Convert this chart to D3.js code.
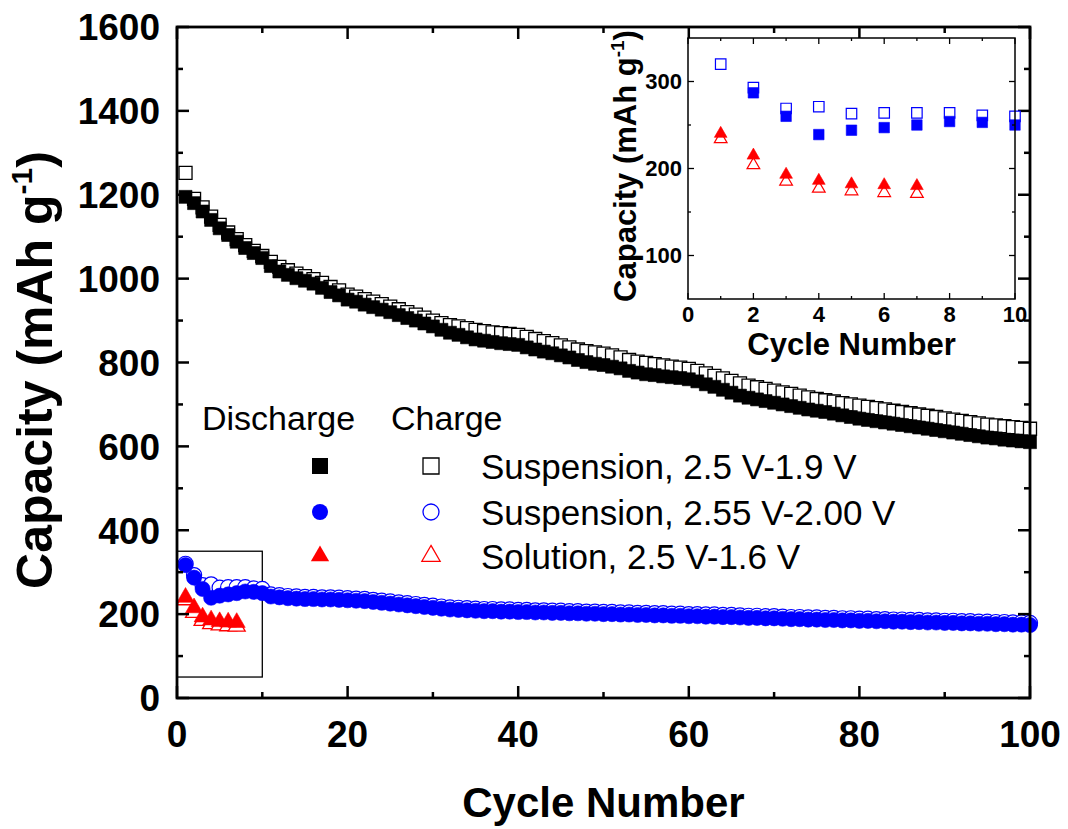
<!DOCTYPE html>
<html><head><meta charset="utf-8">
<script src="https://cdn.jsdelivr.net/npm/d3@7"></script>
<style>body{margin:0;background:#fff}text{font-family:"Liberation Sans",Arial,sans-serif}</style>
</head><body>
<svg id="c" width="1068" height="829"></svg>
<script>
// ---- data (capacity, mAh g^-1, index = cycle number - 1) ----
const suspA_discharge = [1195,1180,1160,1140,1120,1104,1088,1073,1061,1049,1030,1017,1009,1001,995,988,978,968,960,950,
945,938,932,926,920,913,906,900,893,886,878,871,866,860,855,852,849,846,844,842,
836,831,826,822,817,812,806,801,797,794,790,786,780,776,772,770,767,765,763,760,
755,748,742,735,728,721,716,712,708,704,700,696,692,688,685,682,678,674,670,666,
663,660,657,654,651,648,645,642,639,636,633,630,627,624,621,619,616,614,612,610];
const suspA_charge = [1252,1190,1170,1148,1128,1110,1094,1080,1066,1054,1040,1028,1020,1012,1006,999,990,980,972,962,
957,951,945,939,933,927,920,914,907,900,894,889,886,882,878,875,872,870,868,866,
861,856,851,846,841,836,831,827,824,821,817,812,806,802,799,796,793,790,788,785,
780,774,768,762,756,750,745,741,737,733,729,725,721,717,713,710,707,703,700,697,
694,691,688,685,682,679,676,673,670,667,664,661,658,655,652,650,648,646,644,642];
const suspB_discharge = [317,287,260,239,244,247,250,254,253,250,242,240,238,237,236,236,235,235,234,233,
232,231,229,227,225,223,221,219,217,215,213,211,210,209,208,207,207,206,206,205,
205,204,204,203,203,202,202,201,201,200,200,199,199,198,198,197,197,196,196,195,
195,194,194,193,193,192,191,191,190,190,189,188,188,187,187,186,186,185,185,184,
184,183,183,182,182,181,181,180,180,179,179,178,178,177,177,176,176,175,175,174];
const suspB_charge = [320,293,269,271,263,264,264,264,261,260,247,245,243,242,241,241,240,240,239,238,
237,236,234,232,230,228,226,224,222,220,218,216,215,214,213,212,212,211,211,210,
210,209,209,208,208,207,207,206,206,205,205,204,204,203,203,202,202,201,201,200,
200,199,199,198,198,197,196,196,195,195,194,193,193,192,192,191,191,190,190,189,
189,188,188,187,187,186,186,185,185,184,184,183,183,182,182,181,181,180,180,179];
const solution_discharge = [240,215,193,186,182,181,180];
const solution_charge = [234,204,185,177,174,172,171];

const mainXTicks = [0,20,40,60,80,100];
const mainYTicks = [0,200,400,600,800,1000,1200,1400,1600];
const insetXTicks = [0,2,4,6,8,10];
const insetYTicks = [100,200,300];
const legendLabels = ["Suspension, 2.5 V-1.9 V","Suspension, 2.55 V-2.00 V","Solution, 2.5 V-1.6 V"];
const legendHeader = ["Discharge","Charge"];

// ---- drawing ----
const svg = d3.select("#c");
const BOLD = "bold";

function frame(g, x, y, lw){
  const [x0,x1] = x.range(), [y0,y1] = y.range();
  g.append("rect").attr("x",x0).attr("y",y1).attr("width",x1-x0).attr("height",y0-y1)
   .attr("fill","none").attr("stroke","#000").attr("stroke-width",lw);
}
function ticks(g, x, y, xMaj, xMin, yMaj, yMin, L, l, lw){
  const [x0,x1] = x.range(), [y0,y1] = y.range();
  const add = (vals, len, fx) => vals.forEach(v => fx(v,len));
  const bt = (v,len)=>{const p=x(v); g.append("line").attr("x1",p).attr("x2",p).attr("y1",y0).attr("y2",y0-len).attr("stroke","#000").attr("stroke-width",lw);
                       g.append("line").attr("x1",p).attr("x2",p).attr("y1",y1).attr("y2",y1+len).attr("stroke","#000").attr("stroke-width",lw);};
  const lt = (v,len)=>{const p=y(v); g.append("line").attr("y1",p).attr("y2",p).attr("x1",x0).attr("x2",x0+len).attr("stroke","#000").attr("stroke-width",lw);
                       g.append("line").attr("y1",p).attr("y2",p).attr("x1",x1).attr("x2",x1-len).attr("stroke","#000").attr("stroke-width",lw);};
  add(xMaj,L,bt); add(xMin,l,bt); add(yMaj,L,lt); add(yMin,l,lt);
}
function marks(g, data, sym, size, color, filled, sw, x, y){
  g.selectAll(null).data(data).enter().append("path")
   .attr("d", d3.symbol().type(sym).size(size)())
   .attr("transform",(d,i)=>`translate(${x(i+1)},${y(d)})`)
   .attr("fill", filled ? color : "#fff")
   .attr("stroke", color).attr("stroke-width", filled ? 0.6 : sw);
}

// main plot
const x = d3.scaleLinear().domain([0,100]).range([177,1030]);
const y = d3.scaleLinear().domain([0,1600]).range([698,27]);
const gm = svg.append("g");

// zoom-region rectangle
gm.append("rect").attr("x",x(0)).attr("y",y(350)).attr("width",x(10)-x(0)).attr("height",y(50)-y(350))
  .attr("fill","none").attr("stroke","#000").attr("stroke-width",1.3);

marks(gm, suspA_charge, d3.symbolSquare, 169, "#000", false, 1.3, x, y);
marks(gm, suspA_discharge, d3.symbolSquare, 169, "#000", true, 1.3, x, y);
marks(gm, suspB_charge, d3.symbolCircle, 180, "#0000ff", false, 1.2, x, y);
marks(gm, suspB_discharge, d3.symbolCircle, 180, "#0000ff", true, 1.2, x, y);
marks(gm, solution_charge, d3.symbolTriangle, 125, "#ff0000", false, 1.3, x, y);
marks(gm, solution_discharge, d3.symbolTriangle, 125, "#ff0000", true, 1.3, x, y);

ticks(gm, x, y, mainXTicks, [10,30,50,70,90], mainYTicks, [100,300,500,700,900,1100,1300,1500], 12, 6, 2.5);
frame(gm, x, y, 2.8);

gm.selectAll(null).data(mainXTicks).enter().append("text")
  .attr("x",d=>x(d)).attr("y",747).attr("text-anchor","middle")
  .attr("font-size",37).attr("font-weight",BOLD).text(d=>d);
gm.selectAll(null).data(mainYTicks).enter().append("text")
  .attr("x",160).attr("y",d=>y(d)).attr("dy","0.36em").attr("text-anchor","end")
  .attr("font-size",37).attr("font-weight",BOLD).text(d=>d);
gm.append("text").attr("x",(x(0)+x(100))/2).attr("y",817).attr("text-anchor","middle")
  .attr("font-size",42).attr("font-weight",BOLD).text("Cycle Number");
const yt = gm.append("text").attr("transform","translate(52,370) rotate(-90)").attr("text-anchor","middle")
  .attr("font-size",50).attr("font-weight",BOLD);
yt.append("tspan").text("Capacity (mAh g");
yt.append("tspan").attr("font-size",30).attr("dy",-20).text("-1");
yt.append("tspan").attr("dy",20).text(")");

// legend
const lg = svg.append("g");
lg.append("text").attr("x",202).attr("y",430).attr("font-size",34).text(legendHeader[0]);
lg.append("text").attr("x",391).attr("y",430).attr("font-size",34).text(legendHeader[1]);
const legendRows = [
  {sym:d3.symbolSquare, size:256, color:"#000", y:466},
  {sym:d3.symbolCircle, size:201, color:"#0000ff", y:512},
  {sym:d3.symbolTriangle, size:145, color:"#ff0000", y:556}
];
legendRows.forEach((r,i)=>{
  lg.append("path").attr("d",d3.symbol().type(r.sym).size(r.size)()).attr("transform",`translate(320,${r.y})`).attr("fill",r.color);
  lg.append("path").attr("d",d3.symbol().type(r.sym).size(r.size)()).attr("transform",`translate(431,${r.y})`)
    .attr("fill","#fff").attr("stroke",r.color).attr("stroke-width",1.3);
  lg.append("text").attr("x",481).attr("y",r.y).attr("dy","0.36em").attr("font-size",35).text(legendLabels[i]);
});

// inset
const xi = d3.scaleLinear().domain([0,10]).range([688,1015]);
const yi = d3.scaleLinear().domain([50,350]).range([299,38]);
const gi = svg.append("g");
gi.append("rect").attr("x",688).attr("y",38).attr("width",327).attr("height",261).attr("fill","#fff");
marks(gi, suspB_charge.slice(0,10), d3.symbolSquare, 110, "#0000ff", false, 1.2, xi, yi);
marks(gi, suspB_discharge.slice(1,10).map(v=>v), d3.symbolSquare, 110, "#0000ff", true, 1.2, (c)=>xi(c+1), yi);
marks(gi, solution_charge, d3.symbolTriangle, 70, "#ff0000", false, 1.2, xi, yi);
marks(gi, solution_discharge, d3.symbolTriangle, 70, "#ff0000", true, 1.2, xi, yi);
ticks(gi, xi, yi, insetXTicks, [1,3,5,7,9], insetYTicks, [150,250], 6, 3, 1.3);
frame(gi, xi, yi, 1.5);
gi.selectAll(null).data(insetXTicks).enter().append("text")
  .attr("x",d=>xi(d)).attr("y",322).attr("text-anchor","middle")
  .attr("font-size",22).attr("font-weight",BOLD).text(d=>d);
gi.selectAll(null).data(insetYTicks).enter().append("text")
  .attr("x",682).attr("y",d=>yi(d)).attr("dy","0.36em").attr("text-anchor","end")
  .attr("font-size",22).attr("font-weight",BOLD).text(d=>d);
gi.append("text").attr("x",(688+1015)/2).attr("y",355).attr("text-anchor","middle")
  .attr("font-size",31).attr("font-weight",BOLD).text("Cycle Number");
const yti = gi.append("text").attr("transform","translate(636,166) rotate(-90)").attr("text-anchor","middle")
  .attr("font-size",31).attr("font-weight",BOLD);
yti.append("tspan").text("Capacity (mAh g");
yti.append("tspan").attr("font-size",19).attr("dy",-12).text("-1");
yti.append("tspan").attr("dy",12).text(")");
</script>
</body></html>
